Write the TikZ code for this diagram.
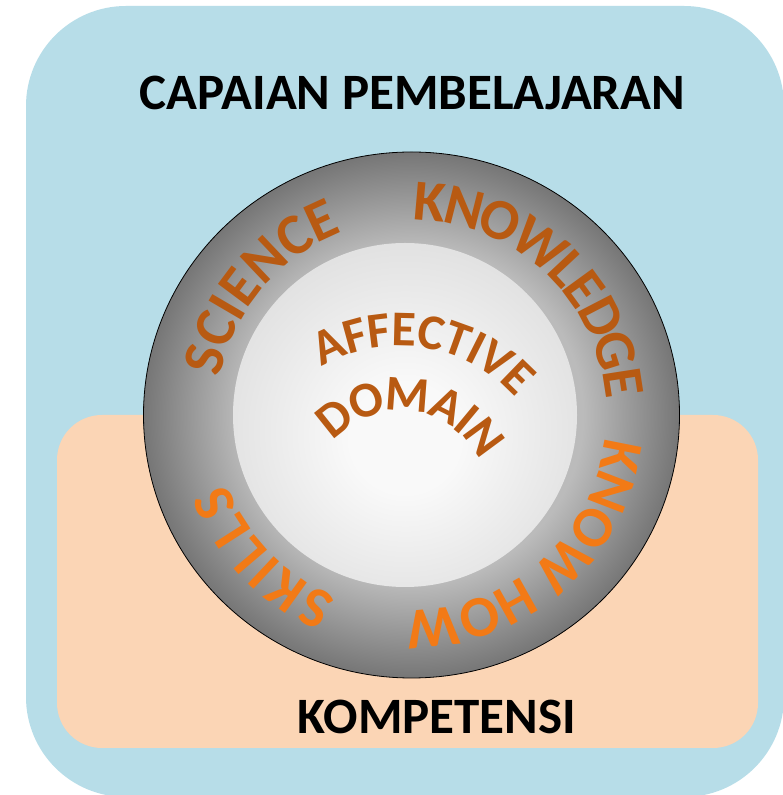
\documentclass[tikz,border=0pt]{standalone}
\usepackage{fontspec}
\setmainfont{Carlito}
\definecolor{bgblue}{HTML}{B7DDE8}
\definecolor{peach}{HTML}{FBD5B5}
\definecolor{brownt}{HTML}{B85A12}
\definecolor{oranget}{HTML}{F27A16}
\definecolor{ringin}{HTML}{BBBBBB}
\definecolor{ringout}{HTML}{767676}
\definecolor{coreout}{HTML}{E0E0E0}
\definecolor{corein}{HTML}{F9F9F9}
\pgfdeclareradialshading{ringshade}{\pgfpoint{0bp}{0bp}}{color(0bp)=(ringin); color(16bp)=(ringin); color(25bp)=(ringout); color(50bp)=(ringout)}
\pgfdeclareradialshading{coreshade}{\pgfpoint{0bp}{-4bp}}{color(0bp)=(corein); color(8bp)=(corein); color(28bp)=(coreout); color(50bp)=(coreout)}
\newcommand\ringfont{\fontsize{58}{58}\selectfont\bfseries}
\newcommand\corefont{\fontsize{50}{50}\selectfont\bfseries}
% #1 cx, #2 cy, #3 baseline radius, #4 angle of first letter centre, #5 angle of last letter centre,
% #6 font, #7 colour, #8 letter/width list (width in em), #9 name prefix
\newcommand\arcword[9]{%
  \gdef\totw{0}%
  \foreach \ch/\cw [count=\ci] in {#8}{%
    \ifnum\ci=1 \xdef\firstw{\cw}\fi
    \xdef\lastw{\cw}%
    \pgfmathsetmacro\t{\totw+\cw}\xdef\totw{\t}%
  }%
  \pgfmathsetmacro\D{\totw-\firstw/2-\lastw/2}\xdef\Dw{\D}%
  \gdef\cum{0}%
  \foreach \ch/\cw [count=\ci] in {#8}{%
    \pgfmathsetmacro\fr{(\cum+\cw/2-\firstw/2)/\Dw}%
    \pgfmathsetmacro\ang{#4-(#4-(#5))*\fr}%
    \pgfmathsetmacro\rot{\ang-90}%
    \pgfmathsetmacro\px{#1+#3*cos(\ang)}%
    \pgfmathsetmacro\py{#2+#3*sin(\ang)}%
    \node[anchor=base, inner sep=0pt, rotate=\rot, text=#7, font=#6] (#9\ci) at (\px,\py) {\ch};
    \pgfmathsetmacro\t{\cum+\cw}\xdef\cum{\t}%
  }%
}
\begin{document}
\begin{tikzpicture}[x=1pt,y=1pt,
  label/.style={font=\fontsize{51}{51}\selectfont\bfseries, text=black, anchor=base, inner sep=0pt}]
\useasboundingbox (0,0) rectangle (783,795);
\fill[white] (0,0) rectangle (783,795);
% outer blue panel
\fill[bgblue, rounded corners=100pt] (26,-2) rectangle (784,789);
% peach panel
\fill[peach, rounded corners=45pt] (57,47) rectangle (758,380);
% ring
\path[shading=ringshade, draw=black, line width=0.8pt] (411.5,380) ellipse[x radius=268, y radius=263];
% core
\path[shading=coreshade] (405,380) circle[radius=172];
% ring texts
\arcword{411.5}{380}{195}{164.9}{114.8}{\ringfont}{brownt}
  {S/.473,C/.529,I/.267,E/.488,N/.659,C/.529,E/.488}{sci}
\arcword{411.5}{380}{195}{85}{8.8}{\ringfont}{brownt}
  {K/.537,N/.659,O/.676,W/.890,L/.423,E/.488,D/.630,G/.637,E/.488}{kno}
\arcword{411.5}{380}{195}{-11.3}{-84.2}{\ringfont}{oranget}
  {K/.537,N/.659,O/.676,W/.890,{}/.226,H/.631,O/.676,W/.890}{how}
\arcword{411.5}{380}{197}{243.6}{204.4}{\ringfont}{oranget}
  {S/.473,K/.537,I/.267,L/.423,L/.423,S/.473}{ski}
% core texts
\arcword{400}{295}{154}{114.9}{45.9}{\corefont}{brownt}
  {A/.606,F/.459,F/.459,E/.488,C/.529,T/.495,I/.267,V/.593,E/.488}{aff}
\arcword{400}{295}{89}{128.6}{36.4}{\corefont}{brownt}
  {D/.630,O/.676,M/.874,A/.606,I/.267,N/.659}{dom}
% labels
\node[label] (title) at (412.5,685) {CAPAIAN PEMBELAJARAN};
\node[label] (komp) at (437,61) {KOMPETENSI};
\end{tikzpicture}
\end{document}
